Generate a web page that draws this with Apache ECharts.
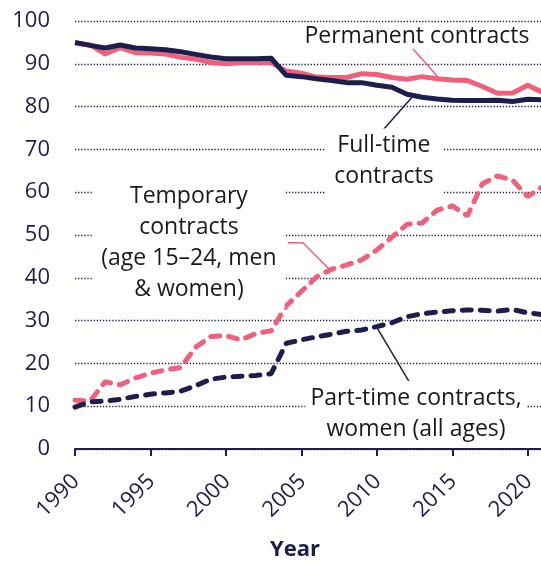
<!DOCTYPE html>
<html>
<head>
<meta charset="utf-8">
<script src="https://cdn.jsdelivr.net/npm/echarts@6/dist/echarts.min.js"></script>
<style>
html, body { margin: 0; padding: 0; background: #fff; }
#chart { width: 541px; height: 561px; }
</style>
</head>
<body>
<div id="chart"></div>
<script>
const years = [1990, 1991, 1992, 1993, 1994, 1995, 1996, 1997, 1998, 1999,
  2000, 2001, 2002, 2003, 2004, 2005, 2006, 2007, 2008, 2009,
  2010, 2011, 2012, 2013, 2014, 2015, 2016, 2017, 2018, 2019, 2020, 2021]

const permanent = [94.8, 94.4, 92.3, 93.8, 92.6, 92.5, 92.3, 91.5, 91.1, 90.3,
  90.0, 90.3, 90.3, 90.3, 88.3, 87.8, 86.9, 86.8, 86.8, 87.7,
  87.5, 86.8, 86.4, 87.0, 86.5, 86.2, 86.1, 84.7, 83.1, 83.2, 85.0, 83.3]

const fullTime = [95.0, 94.3, 93.7, 94.4, 93.7, 93.5, 93.3, 92.8, 92.2, 91.6,
  91.2, 91.2, 91.2, 91.3, 87.3, 87.0, 86.5, 86.1, 85.6, 85.6,
  85.0, 84.5, 82.9, 82.2, 81.8, 81.5, 81.4, 81.4, 81.5, 81.2, 81.7, 81.6]

const temporary = [11.4, 11.2, 15.7, 15.0, 16.6, 17.7, 18.5, 19.0, 23.8, 26.3,
  26.5, 25.5, 27.0, 27.6, 33.5, 36.8, 40.2, 42.0, 43.0, 44.2,
  46.5, 49.5, 52.5, 52.8, 55.8, 56.8, 54.5, 62.0, 63.8, 62.8, 59.0, 61.3]

const partTimeWomen = [9.8, 11.0, 11.2, 11.6, 12.3, 12.8, 13.1, 13.5, 14.8, 16.3,
  16.8, 17.0, 17.2, 17.6, 24.7, 25.5, 26.2, 26.8, 27.5, 27.8,
  28.6, 29.5, 30.9, 31.6, 32.0, 32.3, 32.5, 32.4, 32.2, 32.6, 31.8, 31.4]

const xTicks = [1990, 1995, 2000, 2005, 2010, 2015, 2020]

const navy = '#1c1e4d'
const pink = '#f0607a'
const font = 'Open Sans'

const pairs = vals => years.map((y, i) => [y, vals[i]])

const chart = echarts.init(document.getElementById('chart'))

function lineSeries(name, vals, color, dashed) {
  return {
    name,
    type: 'line',
    data: pairs(vals),
    symbol: 'none',
    z: dashed ? 3 : 4,
    lineStyle: dashed
      ? { color, width: 5, type: [9, 9], cap: 'round' }
      : { color, width: 5, join: 'round' },
  }
}

chart.setOption({
  animation: false,
  backgroundColor: '#fff',
  grid: { left: 75, right: 0, top: 21, bottom: 112, outerBoundsMode: 'none', containLabel: false },
  xAxis: {
    type: 'value',
    min: 1990,
    max: 2020.88,
    interval: 5,
    axisLine: { show: true, lineStyle: { color: navy, width: 2 } },
    axisTick: { show: true, length: 7, lineStyle: { color: navy, width: 2 }, customValues: xTicks },
    // rotated year labels are drawn below as graphic text, the built-in ones sat too close to the axis
    axisLabel: { show: false },
    splitLine: { show: false },
  },
  yAxis: {
    type: 'value',
    min: 0,
    max: 100,
    interval: 10,
    axisLine: { show: false },
    axisTick: { show: false },
    axisLabel: { color: navy, fontFamily: font, fontSize: 22, margin: 25 },
    splitLine: { lineStyle: { color: navy, width: 1.3, type: [1.3, 1.8] } },
  },
  series: [
    lineSeries('Permanent contracts', permanent, pink, false),
    lineSeries('Full-time contracts', fullTime, navy, false),
    lineSeries('Temporary contracts (age 15–24, men & women)', temporary, pink, true),
    lineSeries('Part-time contracts, women (all ages)', partTimeWomen, navy, true),
  ],
})

// annotations placed in data space [year, value]
const notes = [
  { text: 'Permanent contracts', at: [2012.66, 96.3], pad: [0, 0], bg: null },
  { text: 'Full-time\ncontracts', at: [2010.47, 67.2], pad: [2, 9], bg: '#fff' },
  { text: 'Temporary\ncontracts\n(age 15–24, men\n& women)', at: [1997.55, 48.2], pad: [4, 8], bg: '#fff' },
  { text: 'Part-time contracts,\nwomen (all ages)', at: [2012.6, 8.2], pad: [2, 5], bg: '#fff' },
]
const leaders = [
  { color: pink, pts: [[2012.39, 93.5], [2014.05, 86.9]] },
  { color: navy, pts: [[2012.33, 82.2], [2010.4, 74.5]] },
  { color: pink, pts: [[2004.1, 48.2], [2005.1, 48.2], [2006.9, 41.8]] },
  { color: navy, pts: [[2010.0, 28.4], [2012.2, 15.4]] },
]

const px = p => chart.convertToPixel({ gridIndex: 0 }, p)

const graphic = []
xTicks.forEach(t => {
  const [x, y] = px([t, 0])
  graphic.push({
    type: 'text',
    z: 60,
    x: x + 1,
    y: y + 29,
    rotation: Math.PI / 4,
    style: {
      text: String(t),
      fill: navy,
      font: '22px "Open Sans"',
      align: 'right',
      verticalAlign: 'middle',
    },
  })
})
leaders.forEach(l => {
  graphic.push({
    type: 'polyline',
    z: 50,
    shape: { points: l.pts.map(px) },
    style: { stroke: l.color, lineWidth: 1.5, fill: null },
  })
})
notes.forEach(n => {
  const [x, y] = px(n.at)
  graphic.push({
    type: 'text',
    z: 60,
    x, y,
    style: {
      text: n.text,
      fill: '#1a1a1a',
      font: '23px "Open Sans"',
      align: 'center',
      verticalAlign: 'middle',
      lineHeight: 31,
      backgroundColor: n.bg || 'transparent',
      padding: n.pad,
    },
  })
})
graphic.push({
  type: 'text',
  z: 60,
  x: 295,
  y: 550,
  style: {
    text: 'Year',
    fill: navy,
    font: 'bold 22px "Open Sans"',
    align: 'center',
    verticalAlign: 'middle',
  },
})
chart.setOption({ graphic })
</script>
</body>
</html>
